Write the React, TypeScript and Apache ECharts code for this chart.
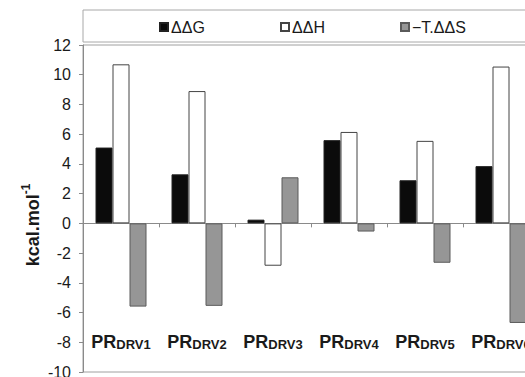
import React, { useEffect, useRef } from "react";
import * as echarts from "echarts";

const categories = ["DRV1", "DRV2", "DRV3", "DRV4", "DRV5", "DRV6"];
const seriesNames = ["ΔΔG", "ΔΔH", "−T.ΔΔS"];
const dG = [5.1, 3.3, 0.25, 5.6, 2.9, 3.85];
const dH = [10.7, 8.9, -2.85, 6.15, 5.55, 10.55];
const mTdS = [-5.6, -5.55, 3.1, -0.55, -2.65, -6.7];
const yMin = -10;
const yMax = 12;
const yStep = 2;
const legendLefts = [159, 280, 400];

export default function App() {
  const ref = useRef<HTMLDivElement>(null);
  useEffect(() => {
    if (!ref.current) return;
    const chart = echarts.init(ref.current, undefined, { renderer: "svg" });
    const font = "Liberation Sans, Arial, sans-serif";
    const textColor = "#1a1a1a";
    chart.setOption({
      animation: false,
      textStyle: { fontFamily: font },
      grid: {
        left: 83,
        top: 45,
        width: 456,
        height: 327,
        containLabel: false,
        outerBoundsMode: "none",
        show: true,
        borderColor: "#a0a0a0",
        borderWidth: 1,
        backgroundColor: "transparent",
      },
      legend: seriesNames.map((n, i) => ({
        left: legendLefts[i],
        top: 19,
        padding: 0,
        itemWidth: 8,
        itemHeight: 8,
        icon: "rect",
        data: [n],
        textStyle: { fontSize: 16, color: textColor, fontFamily: font, padding: [0, 0, 0, -2] },
      })),
      graphic: [
        {
          type: "rect",
          shape: { x: 83, y: 10, width: 500, height: 32 },
          style: { fill: "none", stroke: "#a8a8a8", lineWidth: 1 },
          silent: true,
        },
        {
          type: "text",
          x: 31,
          y: 225,
          rotation: Math.PI / 2,
          style: {
            text: "{a|kcal.mol}{b|-1}",
            align: "center",
            verticalAlign: "middle",
            rich: {
              a: { fontSize: 18, fontWeight: "bold", fill: textColor, fontFamily: font, lineHeight: 22, verticalAlign: "bottom" },
              b: { fontSize: 12, fontWeight: "bold", fill: textColor, fontFamily: font, lineHeight: 12, verticalAlign: "top" },
            },
          },
        },
      ],
      xAxis: [
        {
          type: "category",
          data: categories,
          axisLine: { onZero: true, lineStyle: { color: "#8a8a8a", width: 1 } },
          axisTick: { show: true, length: 4, lineStyle: { color: "#8a8a8a" } },
          splitLine: { show: false },
          axisLabel: { show: false },
        },
        {
          type: "category",
          data: categories,
          position: "bottom",
          axisLine: { show: false, onZero: false },
          axisTick: { show: false },
          splitLine: { show: false },
          axisLabel: {
            interval: 0,
            margin: -43,
            hideOverlap: false,
            formatter: (v: string) => `{a|PR}{b|${v}}`,
            rich: {
              a: { fontSize: 18, fontWeight: "bold", color: textColor, fontFamily: font, lineHeight: 22, verticalAlign: "bottom" },
              b: { fontSize: 13, fontWeight: "bold", color: textColor, fontFamily: font, lineHeight: 13, verticalAlign: "bottom" },
            },
          },
        },
      ],
      yAxis: {
        type: "value",
        min: yMin,
        max: yMax,
        interval: yStep,
        axisLine: { show: true, lineStyle: { color: "#8a8a8a", width: 1 } },
        axisTick: { show: true, length: 4, lineStyle: { color: "#8a8a8a" } },
        splitLine: { show: false },
        axisLabel: { fontSize: 16, color: textColor, fontFamily: font, margin: 12 },
      },
      series: [
        {
          name: seriesNames[0],
          type: "bar",
          data: dG,
          barWidth: 17,
          barGap: "0%",
          itemStyle: { color: "#0b0b0b", borderColor: "#222", borderWidth: 1 },
        },
        {
          name: seriesNames[1],
          type: "bar",
          data: dH,
          barWidth: 17,
          barGap: "0%",
          itemStyle: { color: "#ffffff", borderColor: "#444", borderWidth: 1 },
        },
        {
          name: seriesNames[2],
          type: "bar",
          data: mTdS,
          barWidth: 17,
          barGap: "0%",
          itemStyle: { color: "#969696", borderColor: "#5a5a5a", borderWidth: 1 },
        },
      ],
    });
    return () => chart.dispose();
  }, []);
  return (
    <div style={{ position: "fixed", left: 0, top: 0, width: 525, height: 377, overflow: "hidden", background: "#fff" }}>
      <div ref={ref} style={{ width: 560, height: 377 }} />
    </div>
  );
}
